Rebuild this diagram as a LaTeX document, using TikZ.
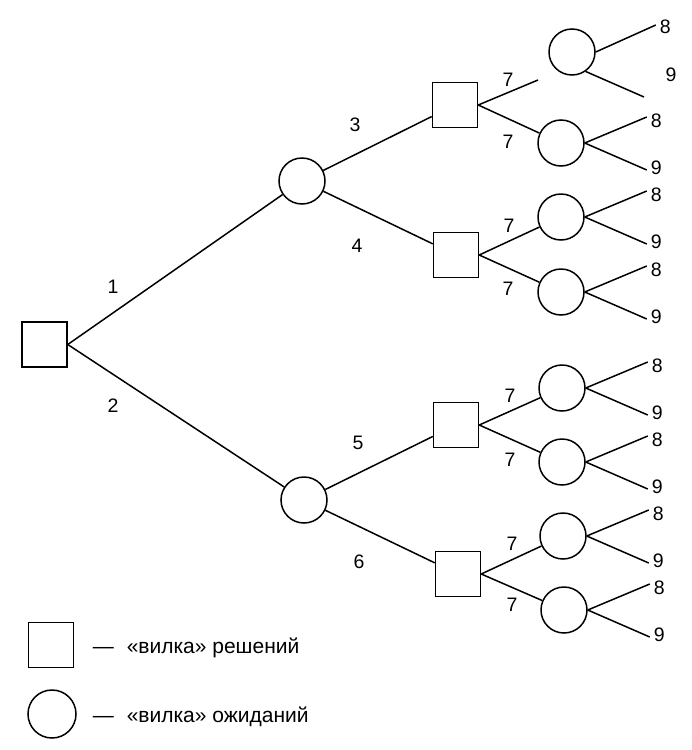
\documentclass[tikz,border=0pt]{standalone}
\usepackage{fontspec}
\setmainfont{Liberation Sans}
\tikzset{
  decision/.style={draw, rectangle, minimum size=45pt, inner sep=0pt},
  chance/.style={draw, circle, minimum size=46pt, inner sep=0pt},
  lbl/.style={font=\fontsize{19.5}{22}\selectfont},
  legend/.style={anchor=base west, inner sep=0pt, font=\fontsize{21}{24}\selectfont}
}
\begin{document}
\begin{tikzpicture}[x=1pt, y=-1pt, line width=1.5pt]
    \useasboundingbox (0,0) rectangle (692,750);

    % decision and chance forks
    \draw(44.5,344.5) node[decision] (R) {};
    \draw(302,181) node[chance] (C1) {};
    \draw(304,500) node[chance] (C2) {};
    \draw(455,105) node[decision] (D1) {};
    \draw(456,255) node[decision] (D2) {};
    \draw(456,425) node[decision] (D3) {};
    \draw(458,574) node[decision] (D4) {};
    \draw(572,52) node[chance] (E1) {};
    \draw(561,143) node[chance] (E2) {};
    \draw(561,217) node[chance] (E3) {};
    \draw(561,292) node[chance] (E4) {};
    \draw(562,388) node[chance] (E5) {};
    \draw(562,462) node[chance] (E6) {};
    \draw(563,536) node[chance] (E7) {};
    \draw(564,610) node[chance] (E8) {};
    \coordinate (X1) at (538,80);

    \draw (R.east) -- (C1);
    \draw (R.east) -- (C2);
    \draw (C1) -- (D1);
    \draw (C1) -- (D2);
    \draw (C2) -- (D3);
    \draw (C2) -- (D4);
    \draw (D1.east) -- (X1);
    \draw (D1.east) -- (E2);
    \draw (D2.east) -- (E3);
    \draw (D2.east) -- (E4);
    \draw (D3.east) -- (E5);
    \draw (D3.east) -- (E6);
    \draw (D4.east) -- (E7);
    \draw (D4.east) -- (E8);

    % outcomes
    \draw (E1.east) -- ++(60,-27) coordinate (E1-8)
        node[lbl, right, yshift=-2pt] (E1-l8) {8};
    \draw (E1.-55) -- (644,97) coordinate (E1-9);
    \draw(671,75) node[lbl] (E1-l9) {9};
    \foreach \c in {E2,E3,E4,E5,E6,E7,E8} {
        \draw (\c.east) -- ++(62,-26) coordinate (\c-8)
            node[lbl, right, yshift=-4pt] (\c-l8) {8};
        \draw (\c.east) -- ++(62,27) coordinate (\c-9)
            node[lbl, right, yshift=2pt] (\c-l9) {9};
    }

    % branch numbers
    \draw(113,287) node[lbl] (n1) {1};
    \draw(113,406) node[lbl] (n2) {2};
    \draw(355,125) node[lbl] (n3) {3};
    \draw(357,246) node[lbl] (n4) {4};
    \draw(358,443) node[lbl] (n5) {5};
    \draw(359,562) node[lbl] (n6) {6};
    \draw(508,80) node[lbl] (n7a) {7};
    \draw(508,142) node[lbl] (n7b) {7};
    \draw(509,226) node[lbl] (n7c) {7};
    \draw(508,289) node[lbl] (n7d) {7};
    \draw(510,396) node[lbl] (n7e) {7};
    \draw(510,460) node[lbl] (n7f) {7};
    \draw(512,544) node[lbl] (n7g) {7};
    \draw(512,605) node[lbl] (n7h) {7};

    % legend
    \draw(51,645) node[decision] (Ld) {};
    \draw(52,714) node[chance, minimum size=48pt] (Lc) {};
    \draw(92,653) node[legend] (Td) {—\hspace{13pt}«вилка» решений};
    \draw(92,722) node[legend] (Tc) {—\hspace{13pt}«вилка» ожиданий};

\end{tikzpicture}
\end{document}
